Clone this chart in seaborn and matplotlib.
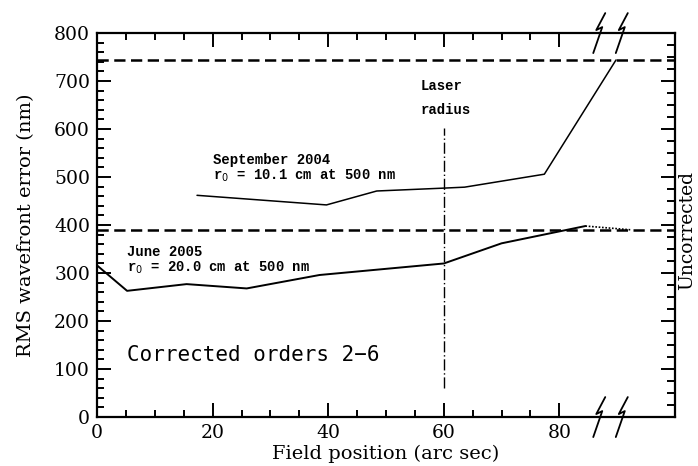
import numpy as np
import pandas as pd
import matplotlib
matplotlib.use("Agg")
import matplotlib.pyplot as plt
import matplotlib.transforms as mtransforms
from matplotlib.ticker import MultipleLocator, FixedLocator
import seaborn as sns

# Measured RMS wavefront error versus field position
sep2004_x = [17.3, 39.7, 48.4, 60.0, 63.6, 77.4, 89.8]
sep2004_y = [462, 442, 471, 477, 479, 506, 744]

jun2005_x = [0.0, 5.2, 15.5, 25.9, 38.5, 60.0, 70.0, 84.5]
jun2005_y = [316, 263, 277, 268, 296, 320, 362, 398]

# dotted extrapolation beyond the last June 2005 point
jun2005_ext_x = [84.5, 92.5]
jun2005_ext_y = [398, 390]

# uncorrected levels for each run
uncorrected_levels = [744, 389]

laser_radius = 60
laser_line_y = [60, 603]

x_major_ticks = [0, 20, 40, 60, 80]
x_minor_ticks = [5, 10, 15, 25, 30, 35, 45, 50, 55, 65, 70, 75]
break_positions = [86.9, 90.8]

sns.set_theme(style="ticks")
plt.rcParams["font.family"] = ["DejaVu Serif", "DejaVu Sans"]

fig = plt.figure(figsize=(6.98, 4.66), dpi=100)
ax = fig.add_axes([0.139, 0.105, 0.828, 0.824])

sep_df = pd.DataFrame({"x": sep2004_x, "y": sep2004_y})
jun_df = pd.DataFrame({"x": jun2005_x, "y": jun2005_y})
ext_df = pd.DataFrame({"x": jun2005_ext_x, "y": jun2005_ext_y})

sns.lineplot(data=sep_df, x="x", y="y", ax=ax, color="black", lw=1.1,
             sort=False, estimator=None)
sns.lineplot(data=jun_df, x="x", y="y", ax=ax, color="black", lw=1.4,
             sort=False, estimator=None)
sns.lineplot(data=ext_df, x="x", y="y", ax=ax, color="black", lw=1.2,
             linestyle=(0, (1, 1)), sort=False, estimator=None)

for lvl in uncorrected_levels:
    ax.axhline(lvl, color="black", lw=1.8, linestyle=(0, (4.5, 2.2)), zorder=1)

ax.plot([laser_radius, laser_radius], laser_line_y, color="black", lw=1.0,
        linestyle=(0, (8, 2, 1, 2)))

ax.set_xlim(0, 100)
ax.set_ylim(0, 800)

ax.xaxis.set_major_locator(FixedLocator(x_major_ticks))
ax.xaxis.set_minor_locator(FixedLocator(x_minor_ticks))
ax.yaxis.set_major_locator(MultipleLocator(100))
ax.yaxis.set_minor_locator(MultipleLocator(20))

ax.tick_params(which="both", direction="in", top=True, right=False,
               color="black", width=1.4, labelsize=13.5, labelcolor="black")
ax.tick_params(which="major", length=10, pad=5)
ax.tick_params(which="minor", length=5)

for s in ax.spines.values():
    s.set_color("black")
    s.set_linewidth(1.6)

# right-hand scale ticks (no labels)
rax = ax.twinx()
rax.set_ylim(0, 800)
rax.yaxis.set_major_locator(MultipleLocator(100))
rax.yaxis.set_minor_locator(MultipleLocator(25))
rax.tick_params(which="both", direction="in", color="black", width=1.4,
                labelright=False)
rax.tick_params(which="major", length=10)
rax.tick_params(which="minor", length=6)
for s in rax.spines.values():
    s.set_visible(False)
rax.grid(False)

ax.set_xlabel("Field position (arc sec)", fontsize=14, color="black", labelpad=2)
ax.set_ylabel("RMS wavefront error (nm)", fontsize=14, color="black", labelpad=14)
ax.grid(False)

# axis break symbols on top and bottom edges
px_to_ax = 1.0 / (0.824 * 466)
px_to_x = 100.0 / (0.828 * 698)
trans = mtransforms.blended_transform_factory(ax.transData, ax.transAxes)
zig = [(6, 20), (-3, 3), (3, 6), (-6, -20)]
for xb in break_positions:
    for base in (0.0, 1.0):
        xs = [xb + dx * px_to_x for dx, dy in zig]
        ys = [base + dy * px_to_ax for dx, dy in zig]
        ax.plot(xs, ys, color="black", lw=1.3, transform=trans, clip_on=False,
                zorder=5)

mono = dict(family=["Liberation Mono", "DejaVu Sans Mono"], fontweight="bold",
            fontsize=10, color="black", va="center", ha="left")
ax.text(20.1, 535, "September 2004", **mono)
ax.text(20.1, 502, "r$_0$ = 10.1 cm at 500 nm", **mono)
ax.text(5.2, 344, "June 2005", **mono)
ax.text(5.2, 312, "r$_0$ = 20.0 cm at 500 nm", **mono)
ax.text(56.0, 690, "Laser", **mono)
ax.text(56.0, 640, "radius", **mono)

ax.text(5.2, 129, "Corrected orders 2\u22126", fontsize=15,
        family=["DejaVu Sans Mono"], color="black", va="center", ha="left")

ax.text(1.0215, 389 / 800, "Uncorrected", transform=ax.transAxes, rotation=90,
        fontsize=13.5, color="black", va="center", ha="center")

fig.savefig("out.png", dpi=100, facecolor="white")
